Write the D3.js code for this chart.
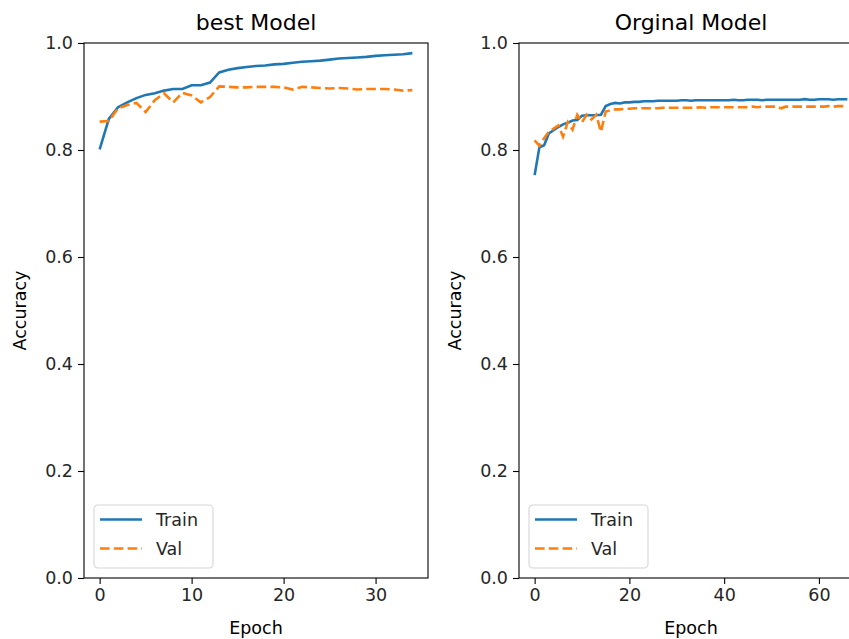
<!DOCTYPE html>
<html>
<head>
<meta charset="utf-8">
<script src="https://cdn.jsdelivr.net/npm/d3@7"></script>
<style>
  body { margin: 0; background: #fff; }
  svg { display: block; font-family: "DejaVu Sans", sans-serif; }
</style>
</head>
<body>
<script>
// accuracy values, one per epoch
var bestTrain = [0.801, 0.858, 0.880, 0.889, 0.897, 0.903, 0.906, 0.911, 0.914, 0.914,
                 0.921, 0.921, 0.926, 0.945, 0.950, 0.953, 0.955, 0.957, 0.958, 0.960,
                 0.961, 0.963, 0.965, 0.966, 0.967, 0.969, 0.971, 0.972, 0.973, 0.974,
                 0.976, 0.977, 0.978, 0.979, 0.981];
var bestVal = [0.853, 0.854, 0.878, 0.884, 0.888, 0.871, 0.893, 0.906, 0.889, 0.907,
               0.902, 0.889, 0.899, 0.919, 0.918, 0.917, 0.917, 0.918, 0.918, 0.918,
               0.917, 0.913, 0.918, 0.917, 0.916, 0.915, 0.916, 0.915, 0.913, 0.914,
               0.914, 0.914, 0.913, 0.911, 0.912];

var origTrain = [0.753, 0.805, 0.809, 0.831, 0.837, 0.843, 0.848, 0.851, 0.855, 0.856,
                 0.864, 0.865, 0.865, 0.865, 0.866, 0.882, 0.886, 0.888, 0.887, 0.889,
                 0.889, 0.890, 0.890, 0.891, 0.891, 0.891, 0.892, 0.892, 0.892, 0.892,
                 0.892, 0.893, 0.893, 0.892, 0.893, 0.893, 0.893, 0.893, 0.893, 0.893,
                 0.893, 0.893, 0.894, 0.893, 0.893, 0.894, 0.894, 0.894, 0.893, 0.894,
                 0.894, 0.894, 0.894, 0.894, 0.894, 0.894, 0.894, 0.895, 0.894, 0.894,
                 0.895, 0.895, 0.895, 0.894, 0.895, 0.895, 0.895];
var origVal = [0.818, 0.808, 0.822, 0.834, 0.840, 0.846, 0.825, 0.852, 0.838, 0.866,
               0.852, 0.866, 0.857, 0.866, 0.834, 0.872, 0.874, 0.876, 0.876, 0.877,
               0.877, 0.878, 0.878, 0.878, 0.878, 0.878, 0.878, 0.879, 0.879, 0.879,
               0.879, 0.879, 0.879, 0.879, 0.879, 0.880, 0.879, 0.880, 0.880, 0.880,
               0.880, 0.880, 0.880, 0.880, 0.880, 0.880, 0.881, 0.880, 0.881, 0.881,
               0.881, 0.881, 0.878, 0.881, 0.881, 0.881, 0.881, 0.881, 0.881, 0.881,
               0.881, 0.881, 0.882, 0.881, 0.882, 0.882, 0.882];

var yTicks = [0.0, 0.2, 0.4, 0.6, 0.8, 1.0];
var bestXTicks = [0, 10, 20, 30];
var origXTicks = [0, 20, 40, 60];
var legendLabels = ["Train", "Val"];

var W = 849, H = 639;
var plotTop = 43, plotBottom = 578;
var blue = "#1f77b4", orange = "#ff7f0e";

var svg = d3.select("body").append("svg")
    .attr("width", W)
    .attr("height", H);

svg.append("rect").attr("width", W).attr("height", H).attr("fill", "#fff");

// one accuracy panel (matplotlib style, 5% x margins)
function drawPanel(left, right, title, train, val, xTicks) {
    var n = train.length - 1;
    var x = d3.scaleLinear()
        .domain([-0.05 * n, n * 1.05])
        .range([left, right]);
    var y = d3.scaleLinear()
        .domain([0, 1])
        .range([plotBottom, plotTop]);

    var g = svg.append("g");

    // lines
    var line = d3.line()
        .x(function(d, i) { return x(i); })
        .y(function(d) { return y(d); });

    g.append("path")
        .datum(train)
        .attr("d", line)
        .attr("fill", "none")
        .attr("stroke", blue)
        .attr("stroke-width", 2.6);

    g.append("path")
        .datum(val)
        .attr("d", line)
        .attr("fill", "none")
        .attr("stroke", orange)
        .attr("stroke-width", 2.6)
        .attr("stroke-dasharray", "9.6,4.2");

    // axes
    var ya = g.append("g")
        .attr("transform", "translate(" + left + ",0)")
        .call(d3.axisLeft(y).tickValues(yTicks).tickSize(6).tickPadding(5)
              .tickFormat(d3.format(".1f")));
    var xa = g.append("g")
        .attr("transform", "translate(0," + plotBottom + ")")
        .call(d3.axisBottom(x).tickValues(xTicks).tickSize(6).tickPadding(5));

    [ya, xa].forEach(function(a) {
        a.select(".domain").remove();
        a.selectAll("line").attr("stroke", "#000").attr("stroke-width", 1.1);
        a.selectAll("text")
            .attr("fill", "#262626")
            .style("font-size", "17.5px")
            .style("font-family", "DejaVu Sans");
    });

    // spines
    g.append("rect")
        .attr("x", left)
        .attr("y", plotTop)
        .attr("width", right - left)
        .attr("height", plotBottom - plotTop)
        .attr("fill", "none")
        .attr("stroke", "#000")
        .attr("stroke-width", 1.1);

    // title and labels
    g.append("text")
        .attr("x", (left + right) / 2)
        .attr("y", 30)
        .attr("text-anchor", "middle")
        .style("font-size", "22px")
        .text(title);

    g.append("text")
        .attr("x", (left + right) / 2)
        .attr("y", 634)
        .attr("text-anchor", "middle")
        .style("font-size", "17.5px")
        .text("Epoch");

    g.append("text")
        .attr("transform", "translate(" + (left - 64) + "," + ((plotTop + plotBottom) / 2) + ") rotate(-90)")
        .attr("text-anchor", "middle")
        .attr("dy", "0.35em")
        .style("font-size", "17.5px")
        .text("Accuracy");

    // legend, lower left
    var lg = g.append("g").attr("transform", "translate(" + (left + 10) + ",505)");
    lg.append("rect")
        .attr("width", 119)
        .attr("height", 63)
        .attr("rx", 4)
        .attr("fill", "#fff")
        .attr("fill-opacity", 0.8)
        .attr("stroke", "#d6d6d6")
        .attr("stroke-width", 1.1);

    legendLabels.forEach(function(lab, i) {
        var ly = 14.5 + i * 29;
        lg.append("line")
            .attr("x1", 6).attr("x2", 48)
            .attr("y1", ly).attr("y2", ly)
            .attr("stroke", i == 0 ? blue : orange)
            .attr("stroke-width", 2.6)
            .attr("stroke-dasharray", i == 0 ? null : "9.6,4.2");
        lg.append("text")
            .attr("x", 62)
            .attr("y", ly)
            .attr("dy", "0.35em")
            .attr("fill", "#262626")
            .style("font-size", "17.5px")
            .text(lab);
    });
}

drawPanel(84, 428, "best Model", bestTrain, bestVal, bestXTicks);
drawPanel(519, 863, "Orginal Model", origTrain, origVal, origXTicks);
</script>
</body>
</html>
